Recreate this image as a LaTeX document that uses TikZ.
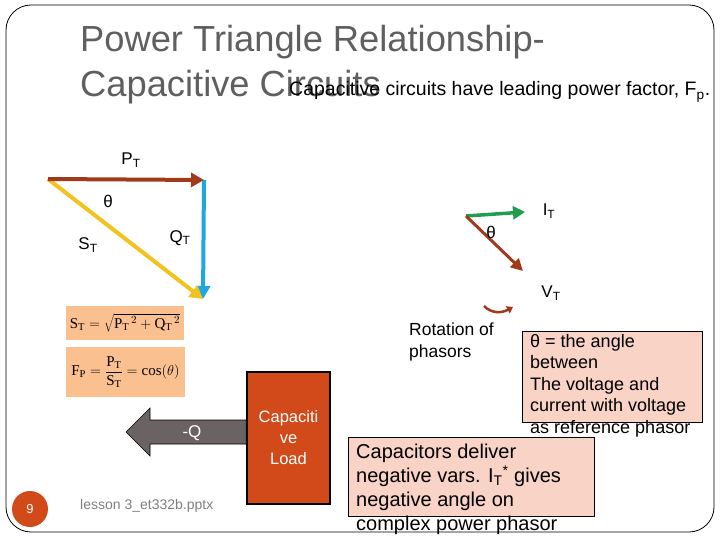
\documentclass[tikz,border=0pt]{standalone}
\usepackage{fontspec}
\setmainfont{Liberation Sans}
\setmathrm{Liberation Serif}
\usetikzlibrary{arrows.meta}
\definecolor{brn}{HTML}{A13A1A}
\definecolor{blu}{HTML}{1EA8E0}
\definecolor{ylw}{HTML}{F2C21E}
\definecolor{grn}{HTML}{1E9E4E}
\definecolor{peach}{HTML}{FAC090}
\definecolor{pink}{HTML}{F9D3C6}
\definecolor{rust}{HTML}{D24A1A}
\definecolor{gry}{HTML}{6B6363}
\definecolor{titlegray}{HTML}{5F5F5F}
\tikzset{
  vec/.style={line width=4pt,-{Triangle[length=13pt,width=14pt]}},
  lbl/.style={font=\fontsize{17}{19}\selectfont,inner sep=0pt},
  note/.style={font=\fontsize{18}{21.5}\selectfont,align=left,anchor=north west,inner sep=0pt},
}
\begin{document}
\begin{tikzpicture}[x=1pt,y=-1pt]
\useasboundingbox (0,0) rectangle (720,540);
% frame
\draw[line width=0.8pt,rounded corners=25pt] (6,5) rectangle (714,532);
% title
\node[anchor=base west,inner sep=0pt,text=titlegray,font=\fontsize{36.3}{40}\selectfont] (t1) at (80,52) {Power Triangle Relationship-};
\node[anchor=base west,inner sep=0pt,text=titlegray,font=\fontsize{36.3}{40}\selectfont] (t2) at (80,97) {Capacitive Circuits};
\node[anchor=base west,inner sep=0pt,font=\fontsize{19.5}{20}\selectfont] (sub) at (289,96) {Capacitive circuits have leading power factor, F\textsubscript{p}.};
% power triangle
\coordinate (A) at (48,179);
\coordinate (B) at (204,180);
\coordinate (C) at (203,299);
\draw[vec,blu] (B) -- (C);
\draw[vec,ylw] (A) -- (C);
\draw[vec,brn] (A) -- (B);
\node[lbl] (pt) at (131,160) {P\textsubscript{T}};
\node[lbl] (th1) at (108,201) {θ};
\node[lbl] (st) at (88,245) {S\textsubscript{T}};
\node[lbl] (qt) at (180,238) {Q\textsubscript{T}};
% formulas
\node[fill=peach,minimum width=118pt,minimum height=34pt,inner sep=0pt,font=\fontsize{15}{17}\selectfont] (f1) at (125,323)
  {$\mathrm{S_T}=\sqrt{\mathrm{P_T}^{\,2}+\mathrm{Q_T}^{\,2}}$};
\node[fill=peach,minimum width=119pt,minimum height=50pt,inner sep=0pt,font=\fontsize{15}{17}\selectfont] (f2) at (125.5,372)
  {$\displaystyle\mathrm{F_P}=\frac{\mathrm{P_T}}{\mathrm{S_T}}=\cos(\theta)$};
% phasors
\coordinate (O) at (466,216);
\coordinate (I) at (525,212);
\coordinate (V) at (523,271);
\draw[vec,grn,line width=3.5pt,-{Triangle[length=12pt,width=13pt]}] (O) -- (I);
\draw[vec,brn,line width=3pt,-{Triangle[length=12pt,width=12pt]}] (O) -- (V);
\node[lbl] (it) at (549,211) {I\textsubscript{T}};
\node[lbl] (th2) at (491,232) {θ};
\node[lbl] (vt) at (551,293) {V\textsubscript{T}};
% rotation arrow
\coordinate (r1) at (484,306);
\coordinate (r2) at (513,307);
\draw[brn,line width=2.5pt,-{Triangle[length=6pt,width=8pt]}] (r1) .. controls (492,314) and (502,313) .. (r2);
\node[note,font=\fontsize{17.5}{22}\selectfont] (rot) at (409,323) {Rotation of\\phasors};
% theta box
\node[draw,fill=pink,line width=0.6pt,minimum width=180pt,minimum height=91pt,anchor=north west,inner sep=0pt] (box1) at (522,331) {};
\node[note] (txt1) at (530,334) {θ = the angle\\between\\The voltage and\\current with voltage\\as reference phasor};
% capacitors box
\node[draw,fill=pink,line width=0.6pt,minimum width=246pt,minimum height=79pt,anchor=north west,inner sep=0pt] (box2) at (348,437) {};
\node[note,font=\fontsize{20}{24}\selectfont] (txt2) at (356,444) {Capacitors deliver\\negative vars. I\textsubscript{T}\textsuperscript{*} gives\\negative angle on\\complex power phasor};
% load and block arrow
\node[draw,fill=rust,line width=1.5pt,minimum width=83pt,minimum height=132pt,inner sep=0pt,text=white,align=center,font=\fontsize{16.5}{21}\selectfont] (load) at (288.5,438) {Capaciti\\ve\\Load};
\draw[fill=gry,line width=0.6pt] (load.west |- 0,420) -- (150,420) -- (150,408) -- (126,432) -- (150,456) -- (150,444) -- (load.west |- 0,444) -- cycle;
\node[text=white,font=\fontsize{17}{18}\selectfont,inner sep=0pt] (q) at (192,433) {-Q};
% footer
\node[circle,fill=rust,minimum size=36pt,inner sep=0pt,text=white,font=\fontsize{13}{14}\selectfont] (num) at (30,509) {9};
\node[anchor=west,inner sep=0pt,text=gray,font=\fontsize{14}{16}\selectfont] (foot) at (80,506) {lesson 3\_et332b.pptx};
\end{tikzpicture}
\end{document}
